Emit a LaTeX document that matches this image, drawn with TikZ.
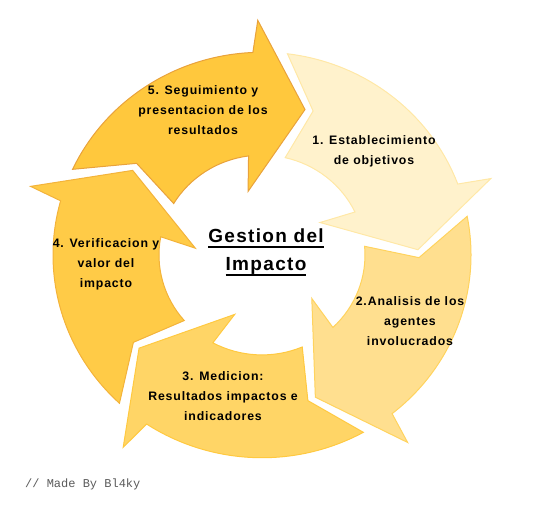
\documentclass[tikz,border=0pt]{standalone}
\usepackage{fontspec}
\setmainfont{Liberation Sans}
\newfontfamily\lblfont[LetterSpace=7]{Liberation Sans}
\newfontfamily\wmfont{Liberation Mono}
\definecolor{f1}{HTML}{FFF2CC}\definecolor{d1}{HTML}{FFE8A6}
\definecolor{f2}{HTML}{FFDF8F}\definecolor{d2}{HTML}{FFD35E}
\definecolor{f3}{HTML}{FFD566}\definecolor{d3}{HTML}{FFC940}
\definecolor{f4}{HTML}{FFCB47}\definecolor{d4}{HTML}{F3B33A}
\definecolor{f5}{HTML}{FFC83D}\definecolor{d5}{HTML}{E9A23B}
\definecolor{wmgray}{HTML}{5A5A5A}
\newsavebox\ulbox
\newcommand\myul[1]{\sbox\ulbox{#1}\usebox\ulbox\llap{\rule[-6pt]{\wd\ulbox}{2pt}}}
\newcommand\cyclearrow[2]{%
  \path[#2, rotate=#1] (83:209pt) arc[start angle=83, end angle=20.5, radius=209pt]
    -- (19:242pt) -- (2:156pt) -- (30:67pt) -- (25.5:103pt)
    arc[start angle=25.5, end angle=77, radius=103pt]
    -- (71:157pt) -- cycle;}
\tikzset{
  arr/.style={line width=1pt, line join=miter},
  lbl/.style={font=\lblfont\bfseries\fontsize{12.3}{20}\selectfont, align=center, inner sep=0pt, anchor=base, text=black},
  ttl/.style={font=\lblfont\bfseries\fontsize{19}{28}\selectfont, align=center, inner sep=0pt, anchor=base, text=black},
  wm/.style={font=\wmfont\fontsize{12}{14}\selectfont, inner sep=0pt, anchor=base west, text=wmgray}
}
\begin{document}
\begin{tikzpicture}[x=1pt,y=1pt]
\useasboundingbox (-262,-253) rectangle (273,251);
\begin{scope}[shift={(0,-4)}, yscale=0.97]
\cyclearrow{0}{arr, fill=f1, draw=d1}
\cyclearrow{-72}{arr, fill=f2, draw=d2}
\cyclearrow{-144}{arr, fill=f3, draw=d3}
\cyclearrow{-216}{arr, fill=f4, draw=d4}
\cyclearrow{-288}{arr, fill=f5, draw=d5}
\end{scope}
\node[lbl] (l1) at (112,87) {1. Establecimiento\\de objetivos};
\node[lbl] (l2) at (148,-94) {2.Analisis de los\\agentes\\involucrados};
\node[lbl] (l3) at (-39,-169) {3. Medicion:\\Resultados impactos e\\indicadores};
\node[lbl] (l4) at (-156,-36) {4. Verificacion y\\valor del\\impacto};
\node[lbl] (l5) at (-59,117) {5. Seguimiento y\\presentacion de los\\resultados};
\node[ttl] (title) at (4,-19) {\myul{Gestion del}\\\myul{Impacto}};
\node[wm] (wm) at (-237,-236) {// Made By Bl4ky};
\end{tikzpicture}
\end{document}
